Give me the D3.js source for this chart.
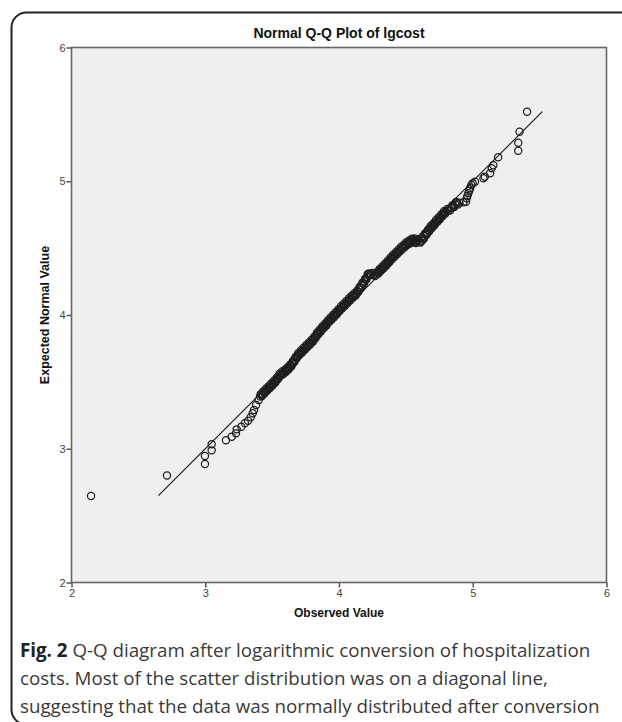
<!DOCTYPE html>
<html>
<head>
<meta charset="utf-8">
<script src="https://cdn.jsdelivr.net/npm/d3@7"></script>
<style>
  html, body { margin: 0; padding: 0; background: #fff; }
  svg { display: block; }
</style>
</head>
<body>
<div id="chart"></div>
<script>
// observed (x) and expected normal (y) values
var observed = [
    2.146, 2.714, 2.998, 2.998, 3.048, 3.048, 3.155, 3.198, 3.230, 3.235, 3.270, 3.297, 3.320, 3.340, 3.355, 3.365, 3.380, 3.400,
    3.41, 3.42, 3.43, 3.44, 3.45, 3.46, 3.47, 3.48, 3.49, 3.50, 3.51, 3.52, 3.53, 3.54, 3.55, 3.56, 3.57, 3.58, 3.59, 3.60,
    3.61, 3.62, 3.63, 3.64, 3.65, 3.66, 3.67, 3.68, 3.69, 3.70, 3.71, 3.72, 3.73, 3.74, 3.75, 3.76, 3.77, 3.78, 3.79, 3.80,
    3.81, 3.82, 3.83, 3.84, 3.85, 3.86, 3.87, 3.88, 3.89, 3.90, 3.91, 3.92, 3.93, 3.94, 3.95, 3.96, 3.97, 3.98, 3.99, 4.00,
    4.01, 4.02, 4.03, 4.04, 4.05, 4.06, 4.07, 4.08, 4.09, 4.10, 4.11, 4.12, 4.13, 4.14, 4.15, 4.16, 4.17, 4.18, 4.19, 4.20,
    4.21, 4.22, 4.225, 4.24, 4.26, 4.28, 4.29, 4.30, 4.31, 4.32, 4.33, 4.34, 4.35, 4.36, 4.37, 4.38, 4.39, 4.40,
    4.41, 4.42, 4.43, 4.44, 4.45, 4.46, 4.47, 4.48, 4.49, 4.50, 4.51, 4.52, 4.53, 4.54, 4.55, 4.56, 4.57, 4.58, 4.60,
    4.62, 4.63, 4.64, 4.65, 4.66, 4.67, 4.68, 4.69, 4.70, 4.71, 4.72, 4.73, 4.74, 4.75, 4.76, 4.77, 4.78, 4.79, 4.80,
    4.82, 4.84, 4.855, 4.87, 4.88, 4.90, 4.95, 4.955, 4.967, 4.98, 4.99, 5.017, 5.08, 5.09, 5.13, 5.142, 5.154, 5.19,
    5.34, 5.34, 5.35, 5.406
];
var expected = [
    2.647, 2.800, 2.886, 2.946, 2.988, 3.033, 3.063, 3.090, 3.115, 3.145, 3.165, 3.190, 3.210, 3.235, 3.265, 3.290, 3.327, 3.365,
    3.39, 3.40, 3.41, 3.42, 3.43, 3.44, 3.45, 3.46, 3.47, 3.48, 3.49, 3.50, 3.51, 3.525, 3.54, 3.552, 3.56, 3.565, 3.572, 3.58,
    3.59, 3.60, 3.61, 3.62, 3.635, 3.65, 3.665, 3.68, 3.695, 3.705, 3.715, 3.725, 3.735, 3.745, 3.755, 3.765, 3.775, 3.785, 3.795, 3.805,
    3.815, 3.83, 3.845, 3.86, 3.87, 3.88, 3.895, 3.905, 3.915, 3.925, 3.935, 3.95, 3.96, 3.97, 3.98, 3.99, 4.00, 4.01, 4.02, 4.035,
    4.045, 4.055, 4.065, 4.075, 4.085, 4.095, 4.105, 4.115, 4.125, 4.135, 4.145, 4.152, 4.16, 4.175, 4.19, 4.205, 4.22, 4.235, 4.25, 4.265,
    4.285, 4.30, 4.31, 4.305, 4.30, 4.305, 4.315, 4.325, 4.335, 4.345, 4.355, 4.365, 4.375, 4.385, 4.395, 4.41, 4.42, 4.43,
    4.44, 4.45, 4.46, 4.47, 4.48, 4.49, 4.50, 4.508, 4.515, 4.525, 4.535, 4.54, 4.545, 4.55, 4.56, 4.565, 4.55, 4.548, 4.55,
    4.555, 4.57, 4.59, 4.605, 4.615, 4.63, 4.645, 4.655, 4.665, 4.675, 4.69, 4.70, 4.71, 4.72, 4.73, 4.745, 4.755, 4.765, 4.772,
    4.785, 4.80, 4.81, 4.825, 4.835, 4.84, 4.847, 4.872, 4.91, 4.947, 4.972, 4.997, 5.022, 5.034, 5.06, 5.097, 5.12, 5.18,
    5.228, 5.288, 5.37, 5.52
];
// tied / overlapping cases that thicken the dense band, [observed, expected]
var tiePoints = [
    [3.415, 3.41], [3.425, 3.395], [3.435, 3.43], [3.445, 3.415], [3.455, 3.45], [3.465, 3.435], [3.475, 3.47], [3.485, 3.455],
    [3.495, 3.49], [3.505, 3.475], [3.515, 3.51], [3.525, 3.495], [3.535, 3.532], [3.545, 3.522], [3.555, 3.561], [3.565, 3.546],
    [3.575, 3.578], [3.585, 3.558], [3.595, 3.591], [3.605, 3.575], [3.615, 3.61], [3.625, 3.595], [3.635, 3.63], [3.645, 3.617],
    [3.655, 3.657], [3.665, 3.647], [3.675, 3.687], [3.685, 3.677], [3.695, 3.715], [3.705, 3.70], [3.715, 3.735], [3.725, 3.72],
    [3.735, 3.755], [3.745, 3.74], [3.755, 3.775], [3.765, 3.76], [3.775, 3.795], [3.785, 3.78], [3.795, 3.815], [3.805, 3.80],
    [3.815, 3.837], [3.825, 3.827], [3.835, 3.867], [3.845, 3.855], [3.855, 3.89], [3.865, 3.877], [3.875, 3.915], [3.885, 3.90],
    [3.895, 3.935], [3.905, 3.92], [3.915, 3.957], [3.925, 3.945], [3.935, 3.98], [3.945, 3.965], [3.955, 4.00], [3.965, 3.985],
    [3.975, 4.02], [3.985, 4.005], [3.995, 4.042], [4.005, 4.03], [4.015, 4.065], [4.025, 4.05], [4.035, 4.085], [4.045, 4.07],
    [4.055, 4.105], [4.065, 4.09], [4.075, 4.125], [4.085, 4.11], [4.095, 4.145], [4.105, 4.13], [4.115, 4.163], [4.125, 4.146],
    [4.135, 4.182], [4.145, 4.172], [4.155, 4.212], [4.165, 4.202], [4.175, 4.242], [4.185, 4.232], [4.195, 4.272], [4.205, 4.265],
    [4.215, 4.307], [4.232, 4.297], [4.25, 4.315], [4.27, 4.292], [4.285, 4.322], [4.295, 4.31], [4.305, 4.345], [4.315, 4.33],
    [4.325, 4.365], [4.335, 4.35], [4.345, 4.385], [4.355, 4.37], [4.365, 4.405], [4.375, 4.392], [4.385, 4.43], [4.395, 4.415],
    [4.405, 4.45], [4.415, 4.435], [4.425, 4.47], [4.435, 4.455], [4.445, 4.49], [4.455, 4.475], [4.465, 4.51], [4.475, 4.494],
    [4.485, 4.526], [4.495, 4.51], [4.505, 4.545], [4.515, 4.527], [4.525, 4.557], [4.535, 4.537], [4.545, 4.57], [4.555, 4.552],
    [4.565, 4.572], [4.575, 4.539], [4.59, 4.562], [4.61, 4.542], [4.625, 4.575], [4.635, 4.57], [4.645, 4.612], [4.655, 4.60],
    [4.665, 4.637], [4.675, 4.627], [4.685, 4.665], [4.695, 4.65], [4.705, 4.685], [4.715, 4.672], [4.725, 4.71], [4.735, 4.695],
    [4.745, 4.73], [4.755, 4.715], [4.765, 4.752], [4.775, 4.74], [4.785, 4.775], [4.795, 4.758], [4.81, 4.793], [4.83, 4.782],
    [4.848, 4.82], [4.862, 4.807], [4.875, 4.845], [4.89, 4.827], [4.93, 4.843], [4.96, 4.89], [4.975, 4.93], [5.0, 4.985]
];
var refLine = [2.65, 5.52];
var xTicks = [2, 3, 4, 5, 6];
var yTicks = [2, 3, 4, 5, 6];

var chartTitle = "Normal Q-Q Plot of lgcost";
var xTitle = "Observed Value";
var yTitle = "Expected Normal Value";
var captionLines = [
    ["Fig. 2", " Q-Q diagram after logarithmic conversion of hospitalization"],
    ["", "costs. Most of the scatter distribution was on a diagonal line,"],
    ["", "suggesting that the data was normally distributed after conversion"]
];

function go() {
    var W = 622, H = 722;
    var svg = d3.select("#chart").append("svg")
        .attr("width", W)
        .attr("height", H);

    // card outline
    svg.append("rect")
        .attr("x", 11.5).attr("y", 12.5)
        .attr("width", 700).attr("height", 712)
        .attr("rx", 15).attr("ry", 15)
        .attr("fill", "#fff")
        .attr("stroke", "#222")
        .attr("stroke-width", 2);

    var margin = {top: 47.5, left: 71.5};
    var pw = 535, ph = 535;

    var x = d3.scaleLinear().domain([2, 6]).range([0, pw]);
    var y = d3.scaleLinear().domain([2, 6]).range([ph, 0]);

    var g = svg.append("g")
        .attr("transform", "translate(" + margin.left + "," + margin.top + ")");

    g.append("rect")
        .attr("width", pw).attr("height", ph)
        .attr("fill", "#efefef");

    var xAxis = g.append("g")
        .attr("transform", "translate(0," + ph + ")")
        .call(d3.axisBottom(x).tickValues(xTicks).tickFormat(d3.format("d")).tickSize(5).tickPadding(2));
    var yAxis = g.append("g")
        .call(d3.axisLeft(y).tickValues(yTicks).tickFormat(d3.format("d")).tickSize(5).tickPadding(1));

    [xAxis, yAxis].forEach(function (a) {
        a.select(".domain").remove();
        a.selectAll("line").attr("stroke", "#555").attr("stroke-width", 1.5);
        a.selectAll("text")
            .attr("fill", "#444")
            .style("font", "11px 'Liberation Sans', Arial, sans-serif");
    });

    // plot frame
    g.append("rect")
        .attr("width", pw).attr("height", ph)
        .attr("fill", "none")
        .attr("stroke", "#666")
        .attr("stroke-width", 1.6);

    // reference diagonal
    g.append("line")
        .attr("x1", x(refLine[0])).attr("y1", y(refLine[0]))
        .attr("x2", x(refLine[1])).attr("y2", y(refLine[1]))
        .attr("stroke", "#111")
        .attr("stroke-width", 1.1);

    var pts = observed.map(function (v, i) { return {x: v, y: expected[i]}; });
    tiePoints.forEach(function (p) { pts.push({x: p[0], y: p[1]}); });

    g.selectAll(".pt")
        .data(pts)
        .enter().append("circle")
        .attr("class", "pt")
        .attr("cx", function (d) { return x(d.x); })
        .attr("cy", function (d) { return y(d.y); })
        .attr("r", 3.6)
        .attr("fill", "none")
        .attr("stroke", "#1e1e1e")
        .attr("stroke-width", 1.25);

    // titles
    svg.append("text")
        .attr("x", margin.left + pw / 2).attr("y", 38)
        .attr("text-anchor", "middle")
        .style("font", "bold 14px 'Liberation Sans', Arial, sans-serif")
        .attr("fill", "#111")
        .text(chartTitle);

    svg.append("text")
        .attr("x", margin.left + pw / 2).attr("y", 617)
        .attr("text-anchor", "middle")
        .style("font", "bold 12px 'Liberation Sans', Arial, sans-serif")
        .attr("fill", "#111")
        .text(xTitle);

    svg.append("text")
        .attr("transform", "translate(49," + (margin.top + ph / 2) + ") rotate(-90)")
        .attr("text-anchor", "middle")
        .style("font", "bold 12.5px 'Liberation Sans', Arial, sans-serif")
        .attr("fill", "#111")
        .text(yTitle);

    // caption
    var cap = svg.append("g");
    captionLines.forEach(function (ln, i) {
        var t = cap.append("text")
            .attr("x", 20).attr("y", 657 + i * 28)
            .style("font", "18.75px 'Open Sans', sans-serif")
            .attr("fill", "#3a3a3a");
        if (ln[0]) {
            t.append("tspan").style("font-weight", "bold").attr("fill", "#222").text(ln[0]);
        }
        t.append("tspan").text(ln[1]);
    });
}

document.addEventListener("DOMContentLoaded", function () {
    go();
});
</script>
</body>
</html>
